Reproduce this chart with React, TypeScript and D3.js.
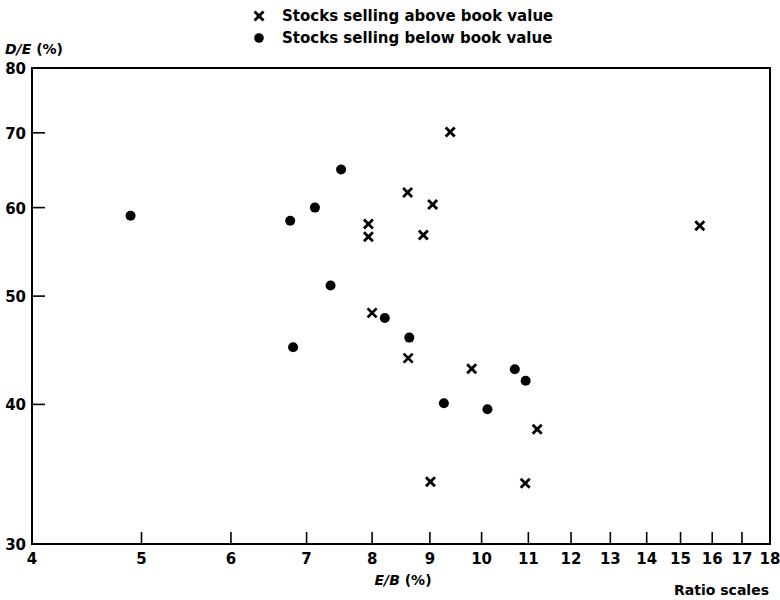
import React from "react";
import * as d3 from "d3";

const xTicks = [4, 5, 6, 7, 8, 9, 10, 11, 12, 13, 14, 15, 16, 17, 18];
const yTicks = [30, 40, 50, 60, 70, 80];

const aboveEB = [9.38, 8.6, 9.05, 7.94, 7.94, 8.88, 15.6, 8.0, 8.61, 9.8, 11.2, 9.01, 10.93];
const aboveDE = [70.1, 61.9, 60.4, 58.0, 56.5, 56.7, 57.8, 48.3, 44.0, 43.05, 38.0, 34.1, 34.0];

const belowEB = [4.89, 7.51, 7.12, 6.77, 7.35, 8.21, 8.63, 6.81, 10.7, 10.94, 9.26, 10.12];
const belowDE = [59.0, 64.9, 60.0, 58.4, 51.1, 47.8, 45.9, 45.0, 43.0, 42.0, 40.1, 39.6];

const legendLabels = ["Stocks selling above book value", "Stocks selling below book value"];

const W = 780;
const H = 600;
const L = 32, R = 770, T = 68, B = 544;
const FONT = "'DejaVu Sans', sans-serif";

function Cross({ x, y, s = 4.5 }: { x: number; y: number; s?: number }) {
  return (
    <g stroke="#000" strokeWidth={2.8} strokeLinecap="butt">
      <line x1={x - s} y1={y - s} x2={x + s} y2={y + s} />
      <line x1={x - s} y1={y + s} x2={x + s} y2={y - s} />
    </g>
  );
}

export default function App() {
  const x = d3.scaleLog().domain([4, 18]).range([L, R]);
  const y = d3.scaleLog().domain([30, 80]).range([B, T]);

  return (
    <svg
      width={W}
      height={H}
      style={{ position: "absolute", left: 0, top: 0, background: "#fff" }}
      fontFamily={FONT}
    >
      <rect x={0} y={0} width={W} height={H} fill="#fff" />
      {/* legend */}
      <Cross x={259} y={16} s={4.5} />
      <text x={282} y={21} fontSize={15} fontWeight="bold">{legendLabels[0]}</text>
      <circle cx={259} cy={38} r={4.8} fill="#000" />
      <text x={282} y={43} fontSize={15} fontWeight="bold">{legendLabels[1]}</text>

      {/* y axis title */}
      <text x={5} y={54} fontSize={14} fontWeight="bold">
        <tspan fontStyle="italic">D/E</tspan>
        <tspan> (%)</tspan>
      </text>

      {/* frame */}
      <rect x={L} y={T} width={R - L} height={B - T} fill="none" stroke="#000" strokeWidth={2} />

      {/* y ticks */}
      {yTicks.map((t) => (
        <g key={"y" + t}>
          {t !== 30 && t !== 80 && (
            <line x1={L} x2={L + 13} y1={y(t)} y2={y(t)} stroke="#000" strokeWidth={1.6} />
          )}
          <text x={26} y={y(t) + 6} fontSize={15} fontWeight="bold" textAnchor="end">
            {t}
          </text>
        </g>
      ))}

      {/* x ticks */}
      {xTicks.map((t) => (
        <g key={"x" + t}>
          {t !== 4 && t !== 18 && (
            <line x1={x(t)} x2={x(t)} y1={B} y2={B - 12} stroke="#000" strokeWidth={1.6} />
          )}
          <text x={x(t)} y={564} fontSize={15} fontWeight="bold" textAnchor="middle">
            {t}
          </text>
        </g>
      ))}

      <text x={403} y={585} fontSize={14} fontWeight="bold" textAnchor="middle">
        <tspan fontStyle="italic">E/B</tspan>
        <tspan> (%)</tspan>
      </text>
      <text x={769} y={595} fontSize={14} fontWeight="bold" textAnchor="end">
        Ratio scales
      </text>

      {/* points */}
      {belowEB.map((v, i) => (
        <circle key={"b" + i} cx={x(v)} cy={y(belowDE[i])} r={5} fill="#000" />
      ))}
      {aboveEB.map((v, i) => (
        <Cross key={"a" + i} x={x(v)} y={y(aboveDE[i])} />
      ))}
    </svg>
  );
}
